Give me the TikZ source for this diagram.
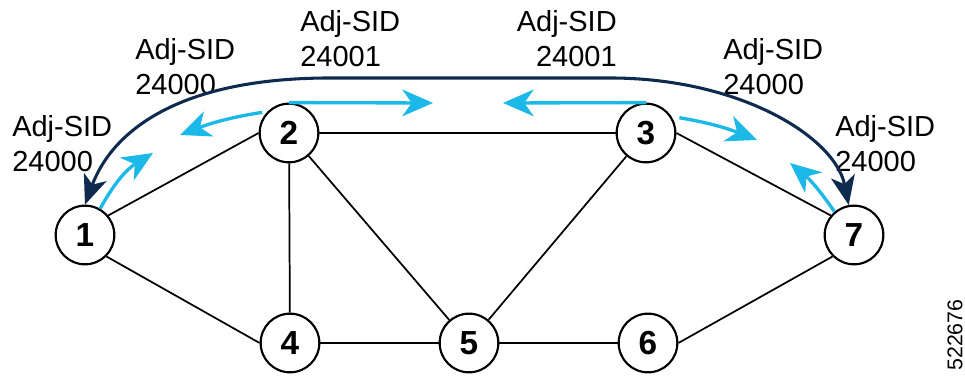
\documentclass[tikz,border=0pt]{standalone}
\usepackage{fontspec}
\setmainfont{Liberation Sans}
\usetikzlibrary{arrows.meta}
\definecolor{sidnavy}{HTML}{0F2A4F}
\definecolor{sidcyan}{HTML}{1CB8E8}
\tikzset{
  router/.style={circle, draw, line width=1.6pt, fill=white, minimum size=44pt, inner sep=0pt,
    font=\fontsize{25}{25}\selectfont\bfseries},
  link/.style={line width=1.3pt},
  sidlabel/.style={inner sep=0pt, font=\fontsize{21.75}{26.25}\selectfont},
  srpath/.style={sidnavy, line width=2.3pt,
    {Stealth[length=22pt,width=18pt,inset=6pt]}-{Stealth[length=22pt,width=18pt,inset=6pt]}},
  adjhop/.style={sidcyan, line width=2.5pt, -{Stealth[length=23pt,width=20pt,inset=7pt]}}
}
\begin{document}
\begin{tikzpicture}[x=0.75pt, y=0.75pt]
    \useasboundingbox (0,0) rectangle (965,377);
    % routers
    \node[router] (r1) at (85,142) {1};
    \node[router] (r2) at (289,244) {2};
    \node[router] (r3) at (646,244) {3};
    \node[router] (r7) at (854,142) {7};
    \node[router] (r4) at (290,34) {4};
    \node[router] (r5) at (469,34) {5};
    \node[router] (r6) at (648,34) {6};
    % links
    \draw[link] (r1.40) -- (r2.west);
    \draw[link] (r1.-45) -- (r4.west);
    \draw[link] (r2) -- (r3);
    \draw[link] (r2) -- (r4);
    \draw[link] (r2) -- (r5);
    \draw[link] (r3) -- (r5);
    \draw[link] (r3.east) -- (r7.140);
    \draw[link] (r4) -- (r5);
    \draw[link] (r5) -- (r6);
    \draw[link] (r6.east) -- (r7.225);
    % Adj-SID labels
    \node[sidlabel, anchor=north west, align=left] (sid1) at (12,262) {Adj-SID\\24000};
    \node[sidlabel, anchor=north west, align=left] (sid2) at (135,339) {Adj-SID\\24000};
    \node[sidlabel, anchor=north west, align=left] (sid3) at (300,367) {Adj-SID\\24001};
    \node[sidlabel, anchor=north east, align=right] (sid4) at (617,367) {Adj-SID\\24001};
    \node[sidlabel, anchor=north west, align=left] (sid5) at (723,339) {Adj-SID\\24000};
    \node[sidlabel, anchor=north west, align=left] (sid6) at (835,262) {Adj-SID\\24000};
    % path 1 -> 7
    \draw[srpath] (r1.north) .. controls (110,240) and (170,299) .. (330,299)
        -- (610,299) .. controls (740,299) and (835,240) .. (r7.100);
    % adjacency hops
    \coordinate (h12) at (153,224);
    \coordinate (h21) at (180,242);
    \coordinate (h23) at (433,274);
    \coordinate (h32) at (503,274);
    \coordinate (h37) at (757,237);
    \coordinate (h73) at (790,214);
    \draw[adjhop] (r1.60) to[bend left=15] (h12);
    \draw[adjhop, shorten <=4pt] (r2.135) to[bend right=6] (h21);
    \draw[adjhop] (r2.north) -- (h23);
    \draw[adjhop] (r3.north) -- (h32);
    \draw[adjhop, shorten <=6pt] (r3.33) to[bend left=6] (h37);
    \draw[adjhop] (r7.130) to[bend right=8] (h73);
    \node[rotate=90, inner sep=0pt, font=\fontsize{16}{16}\selectfont] (fignum) at (955,42) {522676};
\end{tikzpicture}
\end{document}
